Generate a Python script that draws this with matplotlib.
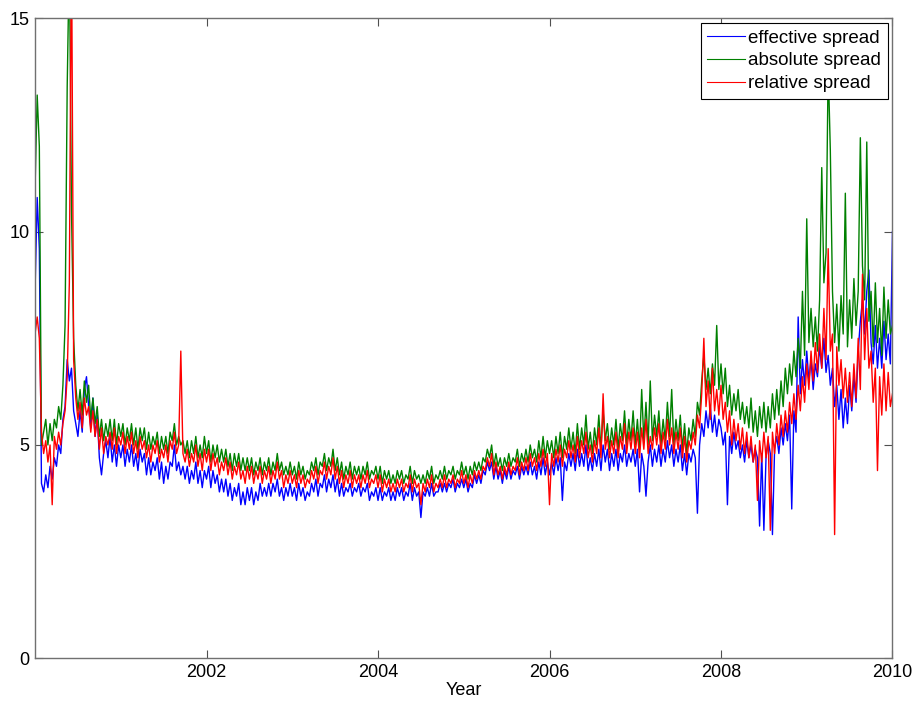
import numpy as np
import matplotlib
matplotlib.use("Agg")
import matplotlib.pyplot as plt

plt.rcParams["font.family"] = ["Liberation Sans", "DejaVu Sans"]

# sampling grid: 40 observations per year starting in 2000
start_year = 2000.0
samples_per_year = 40

effective_spread = [
    # 2000
    8.6, 10.8, 9.6, 4.1, 3.9, 4.3, 4.0, 4.5, 4.2, 4.7,
    4.5, 5.0, 4.8, 5.6, 5.9, 7.0, 6.5, 6.8, 5.8, 5.5,
    5.2, 5.8, 5.3, 6.3, 6.6, 5.9, 5.4, 6.1, 5.2, 5.7,
    4.7, 4.3, 4.8, 5.1, 4.7, 5.2, 4.6, 5.0, 4.5, 5.0,
    # 2001
    4.7, 5.0, 4.5, 4.9, 4.6, 5.0, 4.5, 4.8, 4.4, 4.9,
    4.6, 4.8, 4.3, 4.7, 4.3, 4.6, 4.4, 4.7, 4.2, 4.6,
    4.1, 4.5, 4.2, 4.6, 4.5, 5.0, 4.4, 4.6, 4.3, 4.5,
    4.2, 4.5, 4.1, 4.4, 4.2, 4.6, 4.1, 4.4, 4.0, 4.4,
    # 2002
    4.2, 4.5, 4.0, 4.4, 4.1, 4.3, 3.9, 4.2, 3.9, 4.2,
    3.8, 4.1, 3.7, 4.0, 3.8, 4.1, 3.6, 3.9, 3.6, 4.0,
    3.7, 4.0, 3.6, 3.9, 3.7, 4.1, 3.8, 4.0, 3.8, 4.1,
    3.8, 4.1, 3.9, 4.2, 3.8, 4.0, 3.7, 4.0, 3.8, 4.1,
    # 2003
    3.8, 4.0, 3.7, 4.1, 3.8, 4.0, 3.7, 3.9, 3.8, 4.1,
    3.9, 4.2, 3.8, 4.1, 4.0, 4.3, 3.9, 4.2, 4.0, 4.3,
    3.9, 4.2, 3.8, 4.1, 3.8, 4.0, 3.9, 4.1, 3.8, 4.0,
    3.9, 4.1, 3.8, 4.0, 3.9, 4.1, 3.7, 3.9, 3.8, 4.0,
    # 2004
    3.7, 4.0, 3.7, 3.9, 3.8, 4.0, 3.7, 3.9, 3.7, 4.0,
    3.8, 4.0, 3.7, 3.9, 3.8, 4.1, 3.7, 4.0, 3.8, 3.9,
    3.3, 3.9, 3.8, 4.0, 3.8, 4.1, 3.8, 3.9, 3.9, 4.1,
    3.9, 4.1, 3.9, 4.1, 4.0, 4.2, 3.9, 4.1, 4.0, 4.2,
    # 2005
    4.0, 4.2, 3.9, 4.1, 4.0, 4.3, 4.1, 4.3, 4.1, 4.4,
    4.3, 4.6, 4.4, 4.6, 4.2, 4.5, 4.2, 4.4, 4.1, 4.4,
    4.2, 4.5, 4.2, 4.4, 4.3, 4.5, 4.2, 4.5, 4.3, 4.5,
    4.3, 4.6, 4.3, 4.5, 4.2, 4.6, 4.3, 4.7, 4.3, 4.6,
    # 2006
    4.3, 4.6, 4.3, 4.7, 4.4, 4.7, 3.7, 4.6, 4.4, 4.8,
    4.5, 4.8, 4.4, 4.9, 4.5, 4.8, 4.5, 5.0, 4.4, 4.7,
    4.4, 4.8, 4.5, 4.9, 4.4, 5.0, 4.6, 4.9, 4.4, 4.8,
    4.5, 4.9, 4.4, 4.8, 4.6, 5.0, 4.5, 4.8, 4.6, 4.9,
    # 2007
    4.5, 4.9, 3.9, 4.8, 4.5, 3.8, 4.6, 5.0, 4.5, 4.9,
    4.6, 5.0, 4.5, 4.9, 4.6, 5.1, 4.7, 5.0, 4.5, 4.9,
    4.6, 5.0, 4.4, 4.8, 4.3, 4.8, 4.6, 4.9, 4.7, 3.4,
    5.0, 5.5, 5.2, 5.8, 5.4, 5.9, 5.3, 5.7, 5.2, 5.6,
    # 2008
    5.4, 5.0, 5.3, 3.6, 5.2, 4.8, 5.3, 4.9, 5.1, 4.7,
    5.0, 4.6, 5.1, 4.7, 5.0, 4.6, 4.9, 4.7, 3.1, 4.8,
    3.0, 4.7, 5.1, 4.8, 2.9, 4.9, 5.2, 4.8, 5.4, 5.0,
    5.5, 5.1, 5.7, 3.5, 5.8, 5.3, 8.0, 6.2, 7.0, 6.4,
    # 2009
    7.2, 6.5, 7.0, 6.3, 6.9, 6.6, 7.3, 6.8, 7.5, 6.7,
    7.1, 6.4, 6.8, 5.9, 6.4, 5.6, 6.3, 5.4, 6.1, 5.5,
    6.4, 5.8, 6.6, 6.0, 7.2, 7.9, 8.4, 7.6, 8.6, 9.1,
    7.4, 6.9, 7.8, 6.8, 7.5, 6.8, 7.9, 7.0, 7.6, 6.9,
    # 2010
    10.0,
]

absolute_spread = [
    # 2000
    11.0, 13.2, 12.0, 5.0, 5.3, 5.6, 5.0, 5.5, 5.1, 5.6,
    5.4, 5.9, 5.6, 6.4, 7.8, 13.4, 16.5, 10.5, 7.5, 6.4,
    5.8, 6.3, 5.7, 6.5, 6.0, 6.4, 5.6, 6.1, 5.5, 5.9,
    5.2, 5.6, 5.1, 5.5, 5.2, 5.6, 5.1, 5.6, 5.0, 5.5,
    # 2001
    5.2, 5.5, 5.0, 5.4, 5.1, 5.5, 5.0, 5.4, 4.9, 5.4,
    5.1, 5.4, 4.9, 5.3, 4.9, 5.2, 5.0, 5.3, 4.8, 5.2,
    4.9, 5.2, 4.8, 5.3, 5.1, 5.5, 5.0, 5.2, 5.0, 5.1,
    4.8, 5.1, 4.7, 5.1, 4.8, 5.2, 4.7, 5.0, 4.7, 5.2,
    # 2002
    4.8, 5.1, 4.6, 5.0, 4.7, 5.0, 4.6, 4.9, 4.6, 4.9,
    4.5, 4.8, 4.4, 4.8, 4.5, 4.8, 4.4, 4.7, 4.4, 4.7,
    4.4, 4.7, 4.3, 4.6, 4.4, 4.7, 4.3, 4.6, 4.4, 4.7,
    4.3, 4.6, 4.4, 4.8, 4.4, 4.6, 4.3, 4.5, 4.3, 4.6,
    # 2003
    4.3, 4.5, 4.2, 4.6, 4.3, 4.5, 4.2, 4.4, 4.3, 4.6,
    4.4, 4.7, 4.3, 4.6, 4.5, 4.8, 4.4, 4.7, 4.5, 4.9,
    4.4, 4.7, 4.3, 4.6, 4.2, 4.5, 4.3, 4.6, 4.2, 4.5,
    4.3, 4.5, 4.2, 4.5, 4.3, 4.6, 4.2, 4.4, 4.3, 4.5,
    # 2004
    4.2, 4.5, 4.1, 4.4, 4.2, 4.4, 4.1, 4.3, 4.1, 4.4,
    4.2, 4.4, 4.1, 4.3, 4.2, 4.5, 4.1, 4.4, 4.2, 4.3,
    4.1, 4.3, 4.1, 4.4, 4.2, 4.5, 4.1, 4.3, 4.2, 4.4,
    4.2, 4.5, 4.2, 4.4, 4.3, 4.5, 4.2, 4.4, 4.3, 4.6,
    # 2005
    4.3, 4.5, 4.2, 4.5, 4.3, 4.6, 4.4, 4.6, 4.4, 4.7,
    4.6, 4.9, 4.7, 5.0, 4.5, 4.8, 4.5, 4.7, 4.4, 4.7,
    4.5, 4.8, 4.5, 4.7, 4.6, 4.9, 4.5, 4.8, 4.6, 4.9,
    4.6, 5.0, 4.7, 4.9, 4.6, 5.1, 4.7, 5.2, 4.7, 5.1,
    # 2006
    4.8, 5.1, 4.7, 5.2, 4.8, 5.3, 4.7, 5.2, 4.9, 5.4,
    4.9, 5.3, 4.8, 5.5, 4.9, 5.4, 5.0, 5.7, 4.9, 5.3,
    4.8, 5.4, 5.0, 5.7, 4.9, 5.8, 5.1, 5.5, 4.9, 5.4,
    5.0, 5.6, 4.9, 5.5, 5.1, 5.8, 5.0, 5.6, 5.1, 5.8,
    # 2007
    5.0, 5.6, 4.9, 6.3, 5.1, 6.0, 5.0, 6.5, 5.1, 5.7,
    5.2, 5.8, 5.0, 5.6, 5.1, 6.0, 5.2, 6.3, 5.0, 5.6,
    5.1, 5.7, 4.9, 5.5, 4.8, 5.4, 5.1, 5.6, 5.2, 6.0,
    5.7, 6.5, 7.1, 6.3, 6.8, 6.2, 6.9, 6.4, 7.8, 6.3,
    # 2008
    6.9, 6.2, 6.8, 5.9, 6.4, 5.7, 6.2, 5.8, 6.3, 5.6,
    6.0, 5.5, 5.9, 5.4, 6.1, 5.3, 5.8, 5.2, 5.9, 5.4,
    6.0, 5.3, 5.9, 5.4, 6.2, 5.6, 6.3, 5.7, 6.5, 5.9,
    6.8, 6.2, 6.9, 6.4, 7.2, 6.6, 7.5, 6.8, 8.6, 7.1,
    # 2009
    10.3, 7.4, 8.2, 7.3, 8.0, 7.2, 8.4, 11.5, 8.8, 9.5,
    13.9, 11.9, 8.6, 7.4, 8.3, 7.2, 8.5, 7.6, 10.9, 7.3,
    8.4, 7.5, 8.9, 7.8, 8.6, 12.2, 9.2, 8.4, 12.1, 7.9,
    8.6, 7.3, 8.8, 7.4, 8.2, 7.1, 8.7, 7.5, 8.4, 7.6,
    # 2010
    7.8,
]

relative_spread = [
    # 2000
    7.6, 8.0, 7.5, 5.3, 4.8, 5.1, 4.6, 5.0, 3.6, 5.2,
    4.9, 5.3, 5.0, 5.5, 5.8, 6.6, 8.8, 17.0, 7.0, 6.1,
    5.6, 6.0, 5.4, 6.1, 5.7, 5.9, 5.3, 5.8, 5.2, 5.6,
    4.9, 5.4, 4.8, 5.2, 5.0, 5.3, 4.9, 5.4, 4.8, 5.2,
    # 2001
    5.0, 5.3, 4.8, 5.2, 4.9, 5.3, 4.8, 5.1, 4.7, 5.2,
    4.9, 5.1, 4.7, 5.0, 4.6, 5.0, 4.8, 5.1, 4.6, 4.9,
    4.7, 5.0, 4.6, 5.1, 4.9, 5.3, 4.8, 5.0, 7.2, 4.8,
    4.6, 4.9, 4.5, 4.8, 4.6, 5.0, 4.5, 4.8, 4.4, 4.9,
    # 2002
    4.6, 4.9, 4.4, 4.8, 4.5, 4.7, 4.3, 4.6, 4.4, 4.7,
    4.3, 4.6, 4.2, 4.5, 4.3, 4.6, 4.2, 4.4, 4.1, 4.5,
    4.2, 4.5, 4.1, 4.4, 4.2, 4.5, 4.1, 4.4, 4.2, 4.5,
    4.1, 4.4, 4.2, 4.6, 4.2, 4.4, 4.0, 4.3, 4.1, 4.4,
    # 2003
    4.1, 4.3, 4.0, 4.4, 4.1, 4.3, 4.0, 4.2, 4.1, 4.4,
    4.2, 4.5, 4.1, 4.4, 4.3, 4.6, 4.2, 4.5, 4.3, 4.7,
    4.2, 4.5, 4.1, 4.4, 4.0, 4.3, 4.1, 4.4, 4.0, 4.3,
    4.1, 4.3, 4.0, 4.3, 4.1, 4.4, 4.0, 4.2, 4.1, 4.3,
    # 2004
    4.0, 4.3, 3.9, 4.2, 4.0, 4.2, 3.9, 4.1, 3.9, 4.2,
    4.0, 4.2, 3.9, 4.1, 4.0, 4.3, 3.9, 4.2, 4.0, 4.1,
    3.6, 4.1, 3.9, 4.2, 4.0, 4.3, 3.9, 4.1, 4.0, 4.2,
    4.0, 4.3, 4.0, 4.2, 4.1, 4.3, 4.0, 4.2, 4.1, 4.4,
    # 2005
    4.1, 4.3, 4.0, 4.3, 4.1, 4.4, 4.2, 4.4, 4.2, 4.5,
    4.4, 4.7, 4.5, 4.8, 4.3, 4.6, 4.3, 4.5, 4.2, 4.5,
    4.3, 4.6, 4.3, 4.5, 4.4, 4.7, 4.3, 4.6, 4.4, 4.7,
    4.4, 4.8, 4.5, 4.7, 4.4, 4.8, 4.5, 4.9, 4.5, 4.8,
    # 2006
    3.6, 4.8, 4.5, 4.9, 4.6, 5.0, 4.5, 4.9, 4.7, 5.1,
    4.7, 5.0, 4.6, 5.2, 4.7, 5.1, 4.8, 5.3, 4.7, 5.0,
    4.6, 5.1, 4.8, 5.4, 4.7, 6.2, 4.9, 5.2, 4.7, 5.1,
    4.8, 5.3, 4.7, 5.2, 4.9, 5.5, 4.8, 5.3, 4.9, 5.4,
    # 2007
    4.8, 5.3, 4.7, 5.4, 4.9, 5.6, 4.8, 5.2, 4.9, 5.4,
    5.0, 5.5, 4.8, 5.3, 4.9, 5.6, 5.0, 5.4, 4.8, 5.3,
    4.9, 5.4, 4.7, 5.2, 4.6, 5.1, 4.9, 5.3, 5.0, 5.7,
    5.4, 6.2, 7.5, 5.9, 6.5, 5.6, 6.8, 5.8, 6.3, 5.7,
    # 2008
    6.4, 5.6, 6.0, 5.3, 5.8, 5.0, 5.6, 5.1, 5.5, 4.9,
    5.4, 4.8, 5.3, 4.7, 5.2, 4.6, 5.0, 3.7, 5.1, 4.6,
    5.3, 4.7, 5.2, 3.0, 5.3, 4.8, 5.5, 5.0, 5.7, 5.2,
    5.8, 5.3, 6.0, 5.5, 6.2, 5.6, 6.4, 5.8, 6.6, 6.0,
    # 2009
    6.9, 6.3, 7.2, 6.5, 7.4, 6.7, 7.6, 6.8, 8.2, 7.0,
    9.6, 7.2, 7.6, 2.9, 7.3, 6.4, 7.0, 6.1, 6.8, 6.0,
    6.7, 5.9, 6.9, 6.1, 7.5, 6.3, 9.0, 7.0, 8.2, 6.8,
    7.2, 6.0, 6.8, 4.4, 6.6, 5.7, 6.9, 5.8, 6.7, 5.9,
    # 2010
    6.2,
]

year_ticks = [2002, 2004, 2006, 2008, 2010]
value_ticks = [0, 5, 10, 15]

years = start_year + np.arange(len(effective_spread)) / samples_per_year

fig = plt.figure(figsize=(9.15, 7.02), dpi=100)
ax = fig.add_axes([0.0383, 0.0622, 0.9371, 0.9118])

lw = 1.0
ax.plot(years, effective_spread, color="#0000ff", lw=lw, label="effective spread")
ax.plot(years, absolute_spread, color="#008000", lw=lw, label="absolute spread")
ax.plot(years, relative_spread, color="#ff0000", lw=lw, label="relative spread")

ax.set_xlim(2000, 2010)
ax.set_ylim(0, 15)
ax.set_xticks(year_ticks)
ax.set_yticks(value_ticks)
ax.tick_params(direction="in", length=6, width=0.8, labelsize=13,
               top=True, right=True, pad=4, color="#505050")
for sp in ax.spines.values():
    sp.set_color("#707070")
    sp.set_linewidth(1.0)

ax.set_xlabel("Year", fontsize=13, labelpad=1)

leg = ax.legend(loc="upper right", fontsize=13.5, fancybox=False,
                edgecolor="black", framealpha=1, borderaxespad=0.25,
                handlelength=2.0, handletextpad=0.2, labelspacing=0.3,
                borderpad=0.35)
leg.get_frame().set_linewidth(0.8)
for line in leg.get_lines():
    line.set_linewidth(0.8)

fig.savefig("out.png", dpi=100)
